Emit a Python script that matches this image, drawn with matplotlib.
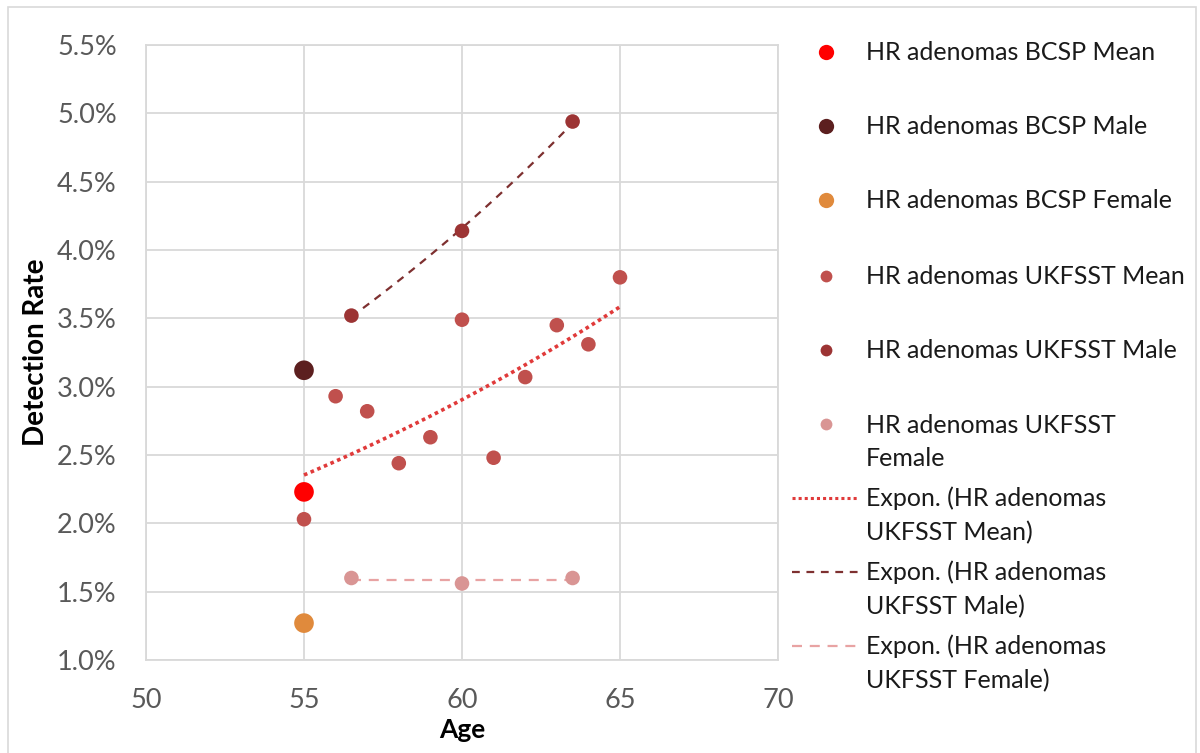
import numpy as np
import matplotlib
matplotlib.use("Agg")
import matplotlib.pyplot as plt
from matplotlib.lines import Line2D
from matplotlib.patches import Rectangle
from matplotlib.ticker import FuncFormatter, MultipleLocator

plt.rcParams['font.family'] = ['Lato', 'DejaVu Sans']

# Detection rates (%) by age
bcsp_age = [55]
bcsp_mean = [2.23]
bcsp_male = [3.12]
bcsp_female = [1.27]

ukfsst_mean_age = [55, 56, 57, 58, 59, 60, 61, 62, 63, 64, 65]
ukfsst_mean = [2.03, 2.93, 2.82, 2.44, 2.63, 3.49, 2.48, 3.07, 3.45, 3.31, 3.80]

ukfsst_sex_age = [56.5, 60, 63.5]
ukfsst_male = [3.52, 4.14, 4.94]
ukfsst_female = [1.60, 1.56, 1.60]

series_labels = [
    "HR adenomas BCSP Mean",
    "HR adenomas BCSP Male",
    "HR adenomas BCSP Female",
    "HR adenomas UKFSST Mean",
    "HR adenomas UKFSST Male",
    "HR adenomas UKFSST\nFemale",
]
trend_labels = [
    "Expon. (HR adenomas\nUKFSST Mean)",
    "Expon. (HR adenomas\nUKFSST Male)",
    "Expon. (HR adenomas\nUKFSST Female)",
]
x_ticks = [50, 55, 60, 65, 70]

# styles
c_bcsp_mean = "#FF0000"
c_bcsp_male = "#5C1F1F"
c_bcsp_female = "#E08A3C"
c_uk_mean = "#C0504D"
c_uk_male = "#9C3434"
c_uk_female = "#D99594"
big = 200
small = 110

W, H = 1200, 753
fig = plt.figure(figsize=(W / 100, H / 100), dpi=100)
ax = fig.add_axes([146 / W, 1 - 660 / H, (778 - 146) / W, (660 - 45) / H])

grid_c = "#D9D9D9"
tick_c = "#595959"

ax.set_xlim(50, 70)
ax.set_ylim(1.0, 5.5)
ax.yaxis.set_major_locator(MultipleLocator(0.5))
ax.set_xticks(x_ticks)
ax.yaxis.set_major_formatter(FuncFormatter(lambda v, p: f"{v:.1f}%"))
ax.grid(True, color=grid_c, linewidth=1.3)
ax.set_axisbelow(True)
for s in ax.spines.values():
    s.set_color(grid_c)
    s.set_linewidth(1.3)
ax.tick_params(length=0, labelsize=19.5, labelcolor=tick_c)
ax.tick_params(axis='y', pad=21)
ax.tick_params(axis='x', pad=20)


def expon_fit(x, y):
    b, ln_a = np.polyfit(np.asarray(x, float), np.log(np.asarray(y, float)), 1)
    xs = np.linspace(min(x), max(x), 100)
    return xs, np.exp(ln_a + b * xs)


# exponential trendlines
trend_styles = [
    dict(color="#E03A3A", lw=2.6, ls=(0, (1, 1))),
    dict(color="#7E3030", lw=1.6, ls=(0, (3.5, 3))),
    dict(color="#E8A3A3", lw=1.6, ls=(0, (4.5, 3.5))),
]
for (x, y), st in zip([(ukfsst_mean_age, ukfsst_mean),
                       (ukfsst_sex_age, ukfsst_male),
                       (ukfsst_sex_age, ukfsst_female)], trend_styles):
    xs, ys = expon_fit(x, y)
    ax.plot(xs, ys, color=st["color"], lw=st["lw"], linestyle=st["ls"], zorder=2)

# scatter series
scatter_styles = [
    (bcsp_age, bcsp_mean, c_bcsp_mean, big),
    (bcsp_age, bcsp_male, c_bcsp_male, big),
    (bcsp_age, bcsp_female, c_bcsp_female, big),
    (ukfsst_mean_age, ukfsst_mean, c_uk_mean, small),
    (ukfsst_sex_age, ukfsst_male, c_uk_male, small),
    (ukfsst_sex_age, ukfsst_female, c_uk_female, small),
]
for x, y, c, s in scatter_styles:
    ax.scatter(x, y, s=s, color=c, edgecolors='none', zorder=3)

ax.set_xlabel("Age", fontsize=19, fontweight='bold', color="#000000", labelpad=4)
ax.set_ylabel("Detection Rate", fontsize=20, fontweight='bold', color="#000000", labelpad=6)


# legend drawn to the right of the plot (pixel positions)
def fx(px):
    return px / W


def fy(py):
    return 1 - py / H


LEG_FS = 18
LINE_STEP = 34


def legend_text(row, label):
    for i, line in enumerate(label.split("\n")):
        fig.text(fx(866), fy(row + 8.5 + i * LINE_STEP), line, fontsize=LEG_FS,
                 va='baseline', ha='left', color="#1A1A1A")


marker_rows = [52, 126, 200, 276, 350, 424]
leg_sizes = [11, 11, 11, 8.5, 8.5, 8.5]
for (x, y, c, s), lab, row, ms in zip(scatter_styles, series_labels, marker_rows, leg_sizes):
    fig.add_artist(Line2D([fx(826)], [fy(row)], marker='o', markersize=ms, color=c,
                          markeredgewidth=0, linestyle='none'))
    legend_text(row, lab)

trend_rows = [498, 572, 646]
for st, lab, row in zip(trend_styles, trend_labels, trend_rows):
    fig.add_artist(Line2D([fx(792), fx(858)], [fy(row), fy(row)], color=st["color"],
                          lw=min(st["lw"], 2.2), linestyle=st["ls"]))
    legend_text(row, lab)

fig.add_artist(Rectangle((fx(8), fy(760)), fx(1196 - 8), (760 - 7) / H,
                         fill=False, edgecolor="#D9D9D9", lw=1.2, transform=fig.transFigure))

fig.savefig("out.png", dpi=100)
